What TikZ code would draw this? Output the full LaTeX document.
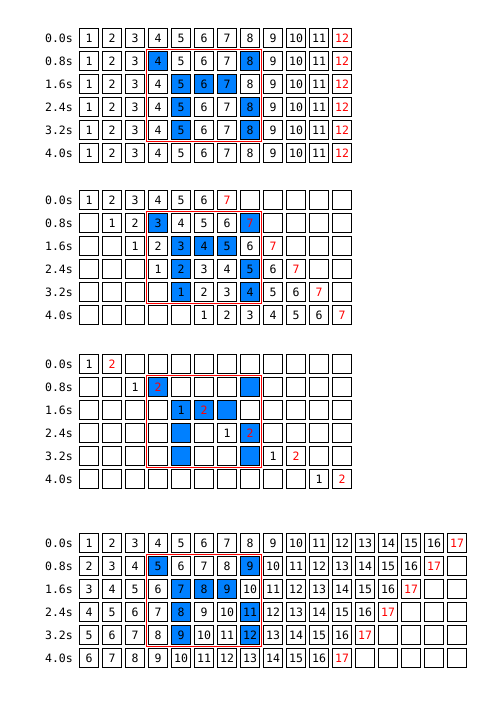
\documentclass[tikz,border=0pt]{standalone}
\usepackage{fontspec}
\setmonofont{DejaVu Sans Mono}
\definecolor{cellblue}{RGB}{0,128,255}
\tikzset{
  cell/.style={draw=black, line width=1.4pt, minimum size=18.6pt, inner sep=0pt, outer sep=0pt,
    font=\ttfamily\fontsize{11.5}{12}\selectfont, anchor=center},
  lab/.style={anchor=east, inner sep=0pt, font=\ttfamily\fontsize{11.5}{12}\selectfont},
  redbox/.style={draw=red, line width=1.1pt}
}
\newcommand\blueflag[2]{\pgfmathtruncatemacro\bflag{((#1==1)&&((#2==4)||(#2==8)))||((#1==2)&&(#2>4)&&(#2<8))||(((#1==3)||(#1==4))&&((#2==5)||(#2==8)))}%
  \ifnum\bflag=1 \def\fc{cellblue}\else\def\fc{white}\fi}
\begin{document}
\begin{tikzpicture}[x=1pt,y=-1pt]
\useasboundingbox[fill=white] (0,0) rectangle (491,711);
% ---------- row labels ----------
\foreach \r/\t in {0/0.0s,1/0.8s,2/1.6s,3/2.4s,4/3.2s,5/4.0s} {
  \node[lab] (la-\r) at (73,{38+23*\r}) {\t};
  \node[lab] (lb-\r) at (73,{200+23*\r}) {\t};
  \node[lab] (lc-\r) at (73,{364+23*\r}) {\t};
  \node[lab] (ld-\r) at (73,{543+23*\r}) {\t};
}
% ---------- section 1 ----------
\foreach \r in {0,...,5} {
  \foreach \c in {1,...,12} {
    \blueflag{\r}{\c}
    \ifnum\c=12 \def\tc{red}\else\def\tc{black}\fi
    \node[cell, fill=\fc, text=\tc] (a-\r-\c) at ({89+23*(\c-1)},{38+23*\r}) {\c};
  }
}
% ---------- section 2 ----------
\foreach \r in {0,...,5} {
  \foreach \c in {1,...,12} {
    \blueflag{\r}{\c}
    \pgfmathtruncatemacro\n{\c-\r}
    \def\txt{}\def\tc{black}
    \ifnum\n>0 \ifnum\n<8 \edef\txt{\n}\fi\fi
    \ifnum\n=7 \def\tc{red}\fi
    \node[cell, fill=\fc, text=\tc] (b-\r-\c) at ({89+23*(\c-1)},{200+23*\r}) {\txt};
  }
}
% ---------- section 3 ----------
\foreach \r in {0,...,5} {
  \foreach \c in {1,...,12} {
    \blueflag{\r}{\c}
    \pgfmathtruncatemacro\n{\c-2*\r}
    \def\txt{}\def\tc{black}
    \ifnum\n>0 \ifnum\n<3 \edef\txt{\n}\fi\fi
    \ifnum\n=2 \def\tc{red}\fi
    \node[cell, fill=\fc, text=\tc] (c-\r-\c) at ({89+23*(\c-1)},{364+23*\r}) {\txt};
  }
}
% ---------- section 4 ----------
\foreach \r in {0,...,5} {
  \foreach \c in {1,...,17} {
    \blueflag{\r}{\c}
    \pgfmathtruncatemacro\n{\c+\r}
    \def\txt{}\def\tc{black}
    \ifnum\n<18 \edef\txt{\n}\fi
    \ifnum\n=17 \def\tc{red}\fi
    \node[cell, fill=\fc, text=\tc] (d-\r-\c) at ({89+23*(\c-1)},{543+23*\r}) {\txt};
  }
}
% ---------- red frames ----------
\foreach \s in {a,b,c,d} {
  \draw[redbox] ([shift={(-2.4,-2.3)}]\s-1-4.north west) rectangle ([shift={(1.9,1.9)}]\s-4-8.south east);
}
\end{tikzpicture}
\end{document}
